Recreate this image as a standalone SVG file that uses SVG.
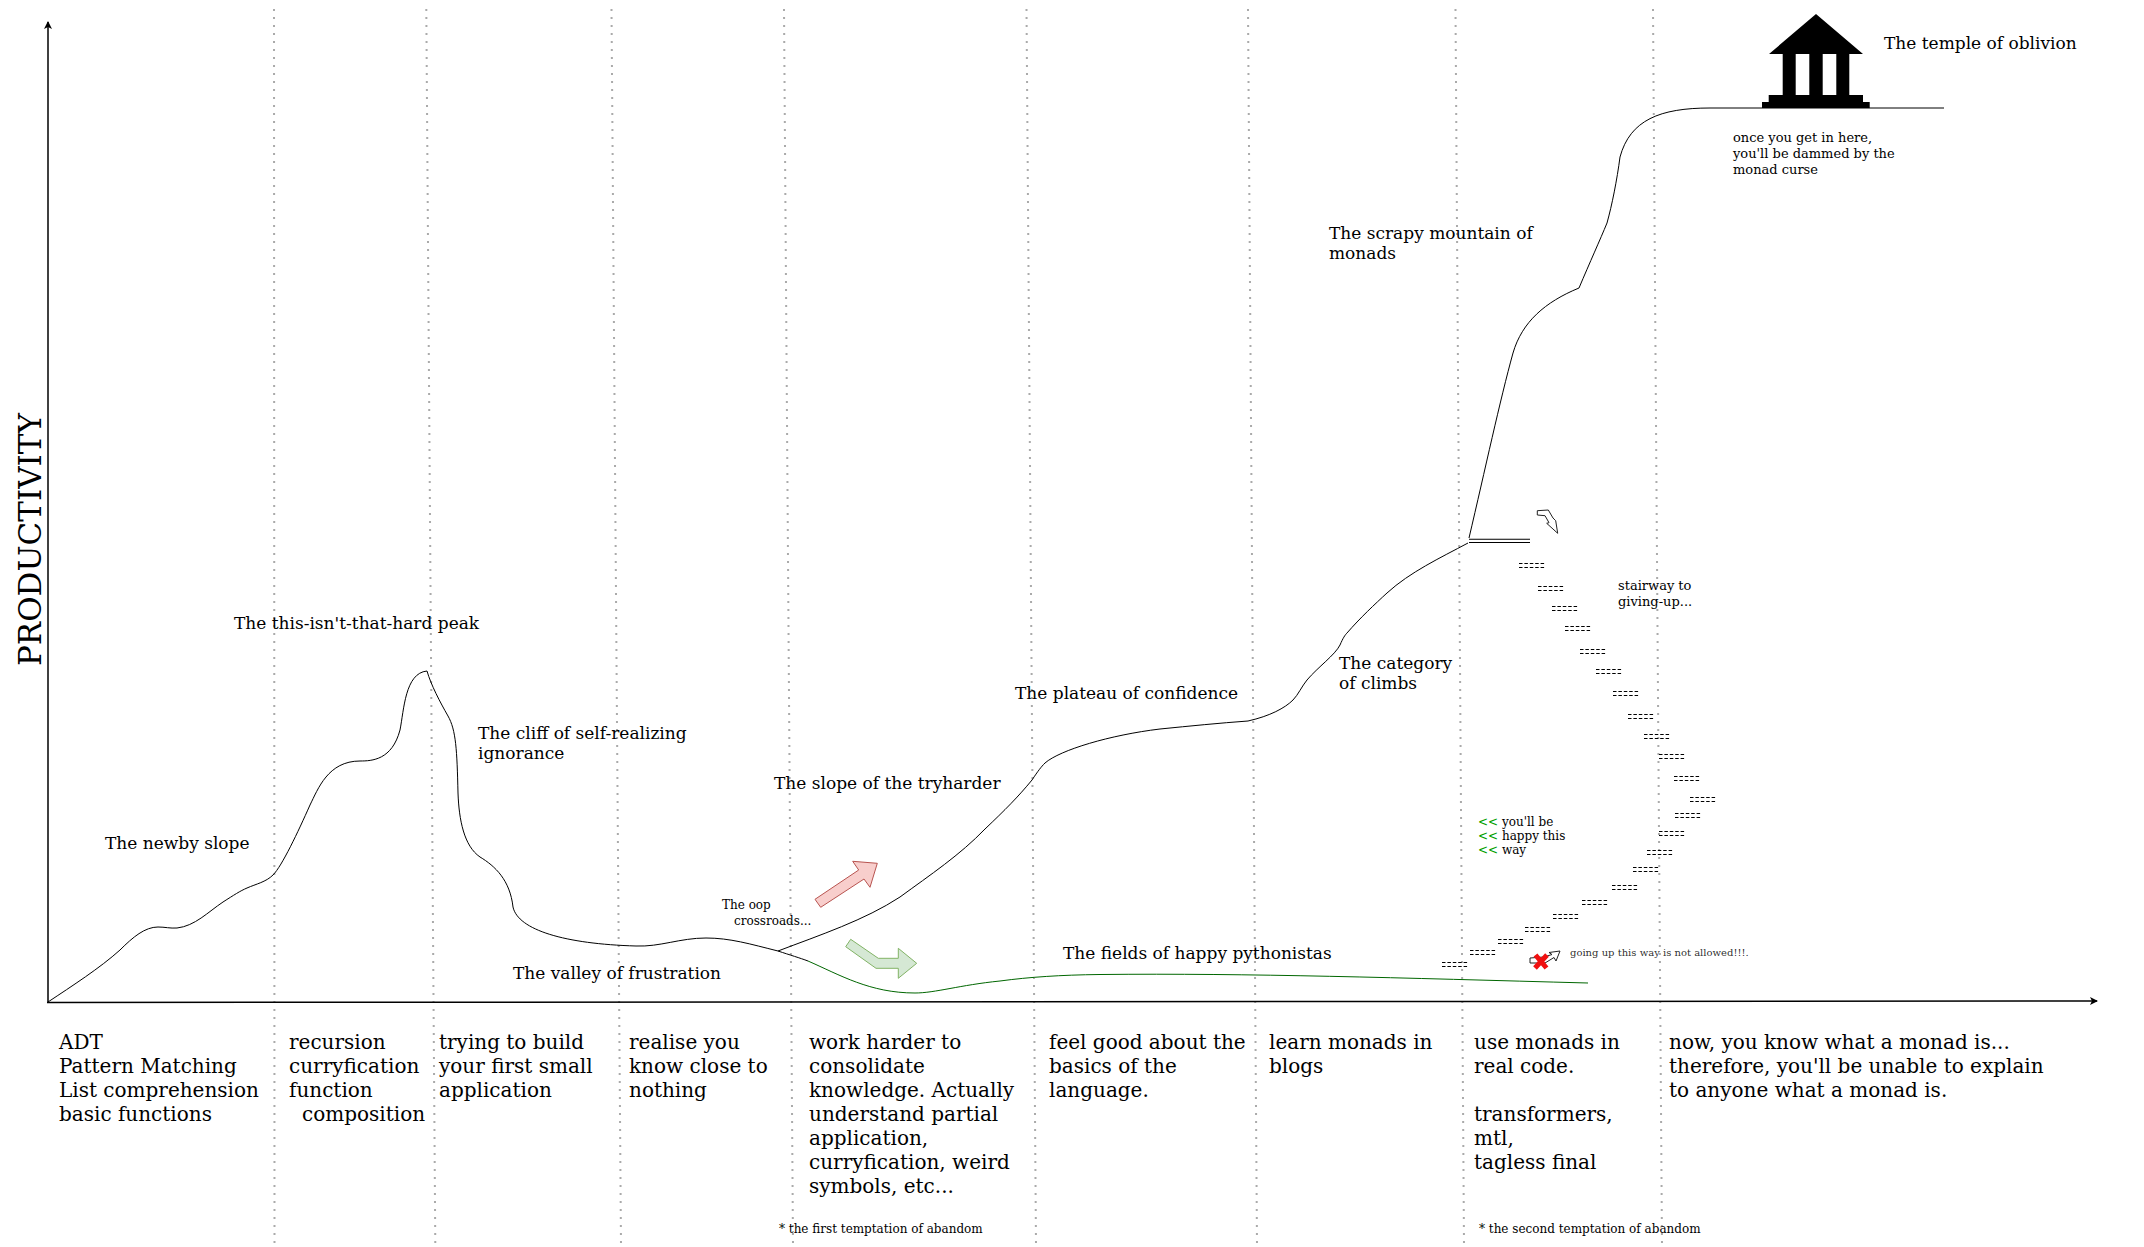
<svg xmlns="http://www.w3.org/2000/svg" width="2144" height="1247" viewBox="0 0 2144 1247">
<style>
text{font-family:"DejaVu Serif",serif;fill:#000}
.l{font-size:17px}.b{font-size:20px}.s{font-size:13px}.t{font-size:12px}.n{font-size:10px}
.v{stroke:#aaa;stroke-width:2;stroke-dasharray:2 6;fill:none}
.c{stroke:#000;stroke-width:1;fill:none}
.st{stroke:#000;stroke-width:1;stroke-dasharray:3.500 1.900;fill:none}
</style>
<defs>
<marker id="ah" markerWidth="8" markerHeight="8" refX="7" refY="4" orient="auto" markerUnits="userSpaceOnUse"><path d="M0 0L8 4L0 8L2 4Z" fill="#000"/></marker>
<g id="step"><path class="st" d="M0 -1.500H26M0 2.500H26"/></g>
</defs>
<rect width="2144" height="1247" fill="#fff"/>
<g id="grid">
<path class="v" d="M274 9L274.500 1245"/><path class="v" d="M426.300 9L435.300 1245"/><path class="v" d="M611.500 9L621 1245"/><path class="v" d="M784 9L793 1245"/><path class="v" d="M1026.500 9L1036 1245"/><path class="v" d="M1248 9L1257 1245"/><path class="v" d="M1455.500 9L1464 1245"/><path class="v" d="M1653 9L1662 1245"/>
</g>
<g id="connectors">
<path d="M48 1002.500L48 22" stroke="#000" stroke-width="1.500" marker-end="url(#ah)"/>
<path d="M47 1002.500L2097 1001" stroke="#000" stroke-width="1.500" marker-end="url(#ah)"/>
<path class="c" d="M48 1002C72 986 100 968 120 950C133 937 145 927 158 927C165 927 170 928.500 177 928C195 926 208 912 223 902C234 895 240 891 247 888C256 884 266 882 273 875C282 866 298 832 310 805C318 789 328 761 360 761C372 761 392 760 400 730C404 710 405 673 427 671C431 685 440 702 448 716C456 730 457 750 458 793C459 820 464 846 480 857C495 866 510 880 513 907C518 930 565 944 636 946C660 947 680 938 706 938C730 938 750 944 778 951C790 955 800 958 808 961"/>
<path class="c" d="M778 951C820 935 865 920 900 897C930 875 960 855 985 829C1005 810 1018 797 1032 780C1038 771 1041 767 1045 763C1060 750 1110 735 1160 729C1190 726 1220 723 1248 721C1270 716 1285 708 1293 700C1298 695 1302 686 1307 680C1318 667 1335 655 1340 645C1343 638 1345 635 1347 633C1360 618 1375 604 1387 593C1410 572 1440 558 1468 543"/>
<path class="c" d="M1469 538C1485 470 1500 400 1513 353C1522 322 1545 302 1579 288C1590 262 1600 240 1607 223C1612 205 1617 180 1620 157C1630 120 1660 108 1710 108L1944 108"/>
<path d="M1469 539.300H1530M1469 542.500H1530" stroke="#000" stroke-width="1.100" fill="none"/>
<path d="M808 961C840 975 870 993 915 993C935 993 960 985 1000 981C1030 977 1060 975 1100 974.500C1250 973 1400 978 1588 983" stroke="#006600" stroke-width="1" fill="none"/>
</g>
<g id="arrows">
<path id="red-arrow" d="M815 899.300L820.700 907.300L864 879L870 887.300L877.300 863.300L852.700 861.300L858.700 870Z" fill="#f8cecc" stroke="#b85450"/>
<path id="green-arrow" d="M845.700 946.700L850.700 939.300L878.300 958.300L898.300 958.300L898.300 948.300L916.700 963.300L898.300 978.300L898.300 968.300L876 968.300Z" fill="#d5e8d4" stroke="#82b366"/>
<path id="down-arrow" d="M1537.300 510.700L1548.300 510L1553 518L1555.700 520.700L1557.700 533.300L1546.700 523.300L1549 522.700L1545 515.700L1537.300 515Z" fill="#fff" stroke="#222" stroke-width="1"/>
<path id="up-arrow" d="M1530 958L1544 957L1552 954.500L1549 952.500L1560 951L1556 961L1554 957.500L1545 963L1530 963Z" fill="#fff" stroke="#222" stroke-width="1"/>
<path id="cross" d="M1535.500 955L1546.500 968M1547 955L1535 968" fill="none" stroke="#f01010" stroke-width="5"/>
</g>
<g id="stairs">
<use href="#step" x="1519" y="565"/><use href="#step" x="1538" y="588"/><use href="#step" x="1552" y="608"/><use href="#step" x="1565" y="628"/><use href="#step" x="1580" y="651"/><use href="#step" x="1596" y="671"/><use href="#step" x="1613" y="693"/><use href="#step" x="1628" y="716"/><use href="#step" x="1644" y="736"/><use href="#step" x="1659" y="756"/><use href="#step" x="1674" y="778"/><use href="#step" x="1690" y="799"/><use href="#step" x="1675" y="815"/><use href="#step" x="1659" y="833"/><use href="#step" x="1647" y="852"/><use href="#step" x="1633" y="869"/><use href="#step" x="1612" y="887"/><use href="#step" x="1582" y="902"/><use href="#step" x="1553" y="916"/><use href="#step" x="1525" y="929"/><use href="#step" x="1498" y="941"/><use href="#step" x="1470" y="952"/><use href="#step" x="1442" y="964"/>
</g>
<g id="temple">
<path d="M1816 14L1769 54H1782.700V95H1768.700V102H1762V108H1869.700V102H1863V95H1849.300V54H1863ZM1795.700 54H1809.300V95H1795.700ZM1822.700 54H1836.300V95H1822.700Z" fill="#000" fill-rule="evenodd"/>
</g>
<g id="labels">
<text transform="translate(41 666) rotate(-90)" font-size="31">PRODUCTIVITY</text>
<text class="l" x="1884" y="49">The temple of oblivion</text>
<text class="s" x="1733" y="142">once you get in here,</text>
<text class="s" x="1733" y="158">you'll be dammed by the</text>
<text class="s" x="1733" y="174">monad curse</text>
<text class="l" x="1329" y="239">The scrapy mountain of</text>
<text class="l" x="1329" y="259">monads</text>
<text class="l" x="234" y="629">The this-isn't-that-hard peak</text>
<text class="l" x="478" y="739">The cliff of self-realizing</text>
<text class="l" x="478" y="759">ignorance</text>
<text class="l" x="105" y="849">The newby slope</text>
<text class="l" x="513" y="979">The valley of frustration</text>
<text class="l" x="774" y="789">The slope of the tryharder</text>
<text class="l" x="1015" y="699">The plateau of confidence</text>
<text class="l" x="1339" y="669">The category</text>
<text class="l" x="1339" y="689">of climbs</text>
<text class="l" x="1063" y="959">The fields of happy pythonistas</text>
<text class="t" x="722" y="909">The oop</text>
<text class="t" x="734" y="925">crossroads...</text>
<text class="s" x="1618" y="590">stairway to</text>
<text class="s" x="1618" y="606">giving-up...</text>
<text class="t" x="1478" y="826"><tspan fill="#00a000">&lt;&lt;</tspan> you'll be</text>
<text class="t" x="1478" y="840"><tspan fill="#00a000">&lt;&lt;</tspan> happy this</text>
<text class="t" x="1478" y="854"><tspan fill="#00a000">&lt;&lt;</tspan> way</text>
<text class="n" x="1570" y="956" fill-opacity=".85">going up this way is not allowed!!!.</text>
<text class="b" x="59" y="1049">ADT</text><text class="b" x="59" y="1073">Pattern Matching</text><text class="b" x="59" y="1097">List comprehension</text><text class="b" x="59" y="1121">basic functions</text>
<text class="b" x="289" y="1049">recursion</text><text class="b" x="289" y="1073">curryfication</text><text class="b" x="289" y="1097">function</text><text class="b" x="302" y="1121">composition</text>
<text class="b" x="439" y="1049">trying to build</text><text class="b" x="439" y="1073">your first small</text><text class="b" x="439" y="1097">application</text>
<text class="b" x="629" y="1049">realise you</text><text class="b" x="629" y="1073">know close to</text><text class="b" x="629" y="1097">nothing</text>
<text class="b" x="809" y="1049">work harder to</text><text class="b" x="809" y="1073">consolidate</text><text class="b" x="809" y="1097">knowledge. Actually</text><text class="b" x="809" y="1121">understand partial</text><text class="b" x="809" y="1145">application,</text><text class="b" x="809" y="1169">curryfication, weird</text><text class="b" x="809" y="1193">symbols, etc...</text>
<text class="b" x="1049" y="1049">feel good about the</text><text class="b" x="1049" y="1073">basics of the</text><text class="b" x="1049" y="1097">language.</text>
<text class="b" x="1269" y="1049">learn monads in</text><text class="b" x="1269" y="1073">blogs</text>
<text class="b" x="1474" y="1049">use monads in</text><text class="b" x="1474" y="1073">real code.</text><text class="b" x="1474" y="1121">transformers,</text><text class="b" x="1474" y="1145">mtl,</text><text class="b" x="1474" y="1169">tagless final</text>
<text class="b" x="1669" y="1049">now, you know what a monad is...</text><text class="b" x="1669" y="1073">therefore, you'll be unable to explain</text><text class="b" x="1669" y="1097">to anyone what a monad is.</text>
<text class="t" x="779" y="1233">* the first temptation of abandom</text>
<text class="t" x="1479" y="1233">* the second temptation of abandom</text>
</g>
</svg>
